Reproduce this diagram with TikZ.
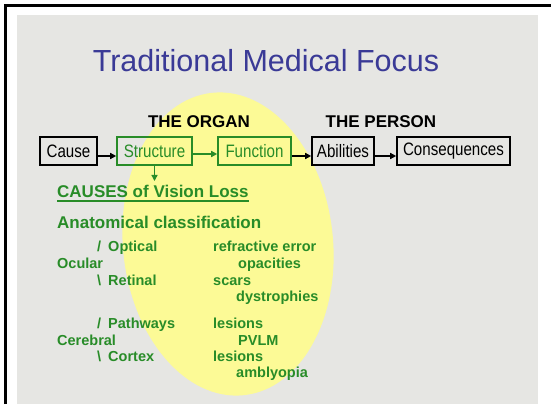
\documentclass[tikz,border=0pt]{standalone}
\usepackage{fontspec}
\setmainfont{Liberation Sans}
\newfontfamily\boxfont{Liberation Sans}[FakeStretch=0.84]
\usetikzlibrary{arrows.meta, positioning}
\definecolor{slidegreen}{RGB}{40,140,40}
\definecolor{titleblue}{RGB}{58,58,150}
\definecolor{slidegray}{RGB}{230,230,227}
\definecolor{spotyellow}{RGB}{252,250,150}

\begin{document}
\begin{tikzpicture}[x=1pt, y=-1pt,
  box/.style={draw, line width=1.6pt, minimum height=28pt, inner sep=0pt, font=\boxfont\fontsize{18}{18}\selectfont},
  gbox/.style={box, draw=slidegreen, text=slidegreen},
  txt/.style={anchor=base west, inner sep=0pt, text=slidegreen, font=\bfseries\fontsize{14.5}{14.5}\selectfont},
  big/.style={txt, font=\bfseries\fontsize{17}{17}\selectfont},
  head/.style={anchor=base, inner sep=0pt, font=\bfseries\fontsize{17}{17}\selectfont},
  link/.style={-{Triangle[length=6pt,width=6pt]}, line width=1.4pt}]

  \useasboundingbox (0,0) rectangle (551,404);
  \fill[slidegray] (17,15) rectangle (538,404);
  \draw[line width=3pt] (5,404) -- (5,5.5) -- (551,5.5);
  \fill[spotyellow, rotate around={6:(228,244)}] (228,244) ellipse [x radius=105pt, y radius=152pt];

  % title and headings
  \node[text=titleblue, font=\fontsize{30.5}{30.5}\selectfont, anchor=base, inner sep=0pt] (title) at (266,71) {Traditional Medical Focus};
  \node[head] (organ) at (199,127) {THE ORGAN};
  \node[head] (person) at (381,127) {THE PERSON};

  % chain of boxes
  \node[box, minimum width=57pt] (cause) at (68.5,151) {Cause};
  \node[gbox, minimum width=75pt] (struct) at (154.5,151) {Structure};
  \node[gbox, minimum width=73pt] (func) at (254.5,151) {Function};
  \node[box, minimum width=62pt] (abil) at (343,151) {Abilities};
  \node[box, minimum width=113pt] (cons) at (453.5,151) {Consequences};

  \draw[link] ([yshift=-5pt]cause.east) -- ([yshift=-5pt]struct.west);
  \draw[link, slidegreen] ([yshift=-3pt]struct.east) -- ([yshift=-3pt]func.west);
  \draw[link] ([yshift=-5pt]func.east) -- ([yshift=-5pt]abil.west);
  \draw[link] ([yshift=-5pt]abil.east) -- ([yshift=-5pt]cons.west);

  % causes list
  \node[big] (causes) at (57,197) {CAUSES of Vision Loss};
  \draw[slidegreen, line width=1.3pt] ([yshift=-4pt]causes.base west) -- ([yshift=-4pt]causes.base east);
  \draw[link, slidegreen, shorten >=3.5pt] (struct.south) -- (struct.south |- causes.north);
  \node[big] (anat) at (57,228) {Anatomical classification};

  \node[txt] (optical) at (97,251) {/\hspace{7pt}Optical};
  \node[txt] (ocular) at (57,268) {Ocular};
  \node[txt] (retinal) at (97,285) {\textbackslash\hspace{7pt}Retinal};
  \node[txt] (pathways) at (97,328) {/\hspace{7pt}Pathways};
  \node[txt] (cerebral) at (57,345) {Cerebral};
  \node[txt] (cortex) at (97,361) {\textbackslash\hspace{7pt}Cortex};

  \node[txt] (refr) at (213,251) {refractive error};
  \node[txt] (opac) at (238,268) {opacities};
  \node[txt] (scars) at (213,285) {scars};
  \node[txt] (dystr) at (236,301) {dystrophies};
  \node[txt] (lesa) at (213,328) {lesions};
  \node[txt] (pvlm) at (238,345) {PVLM};
  \node[txt] (lesb) at (213,361) {lesions};
  \node[txt] (ambl) at (236,377) {amblyopia};
\end{tikzpicture}
\end{document}
